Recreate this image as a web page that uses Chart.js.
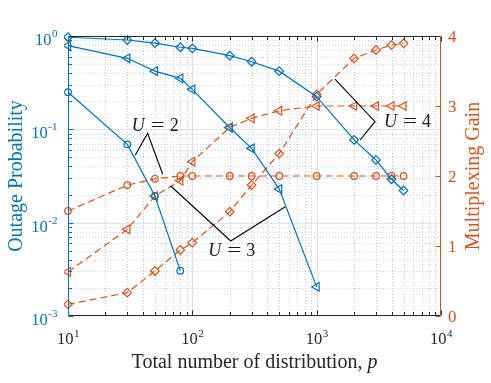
<!DOCTYPE html>
<html><head><meta charset="utf-8">
<script src="https://cdn.jsdelivr.net/npm/chart.js@4.4.0/dist/chart.umd.min.js"></script>
<style>html,body{margin:0;padding:0;background:#fff;} canvas{display:block;}</style>
</head><body>
<canvas id="c" width="491" height="383"></canvas>
<script>
// ---- data ----
const pValues   = [10, 30, 50, 80, 100, 200, 300, 500, 1000, 2000, 3000, 4000, 5000];
const outageU2  = [0.25, 0.069, 0.0193, 0.00306];
const outageU3  = [0.787, 0.577, 0.42, 0.352, 0.268, 0.104, 0.0625, 0.0229, 0.00205];
const outageU4  = [0.97, 0.906, 0.84, 0.758, 0.738, 0.615, 0.53, 0.42, 0.224, 0.077, 0.047, 0.0292, 0.0221];
const gainU2    = [1.5, 1.87, 1.96, 2.0, 2.0, 2.0, 2.0, 2.0, 2.0, 2.0, 2.0, 2.0, 2.0];
const gainU3    = [0.63, 1.238, 1.714, 1.933, 2.205, 2.695, 2.824, 2.933, 3.0, 3.0, 3.0, 3.0, 3.0];
const gainU4    = [0.167, 0.333, 0.643, 0.943, 1.048, 1.49, 1.871, 2.32, 3.167, 3.68, 3.8, 3.871, 3.895];
const xTickExps    = [1, 2, 3, 4];
const leftTickExps = [0, -1, -2, -3];
const rightTicks   = [0, 1, 2, 3, 4];
const xTitle = 'Total number of distribution, ';
const xTitleVar = 'p';
const leftTitle = 'Outage Probability';
const rightTitle = 'Multiplexing Gain';
// annotation callouts (data coordinates: p, outage probability)
const calloutLabels = ['2', '3', '4'];
const calloutLines = [
  [[34.8, 0.0531], [43.7, 0.0907], [57.8, 0.033]],
  [[67, 0.0247], [203.6, 0.00636], [559, 0.0148]],
  [[1405, 0.346], [2946, 0.1207], [2233, 0.0769]]
];
const calloutText = [[32.5, 0.1127], [134.5, 0.00522], [3480, 0.1234]];

const BLUE = '#0072BD', ORANGE = '#D95319', AX = '#262626';
const FONT = '"Liberation Serif", "Times New Roman", serif';

function pts(ys) { return ys.map((y, i) => ({x: pValues[i], y})); }

function ds(data, color, shape, axis, dashed) {
  const style = shape === 'circle' ? 'circle' : (shape === 'diamond' ? 'rectRot' : 'triangle');
  const r = shape === 'circle' ? 3.3 : (shape === 'diamond' ? 4.3 : 5);
  return {
    data, yAxisID: axis, borderColor: color, backgroundColor: 'rgba(0,0,0,0)',
    borderWidth: 1.2, borderDash: dashed ? [7, 4] : [],
    pointStyle: style, pointRadius: r, pointBorderWidth: 1.2,
    pointRotation: shape === 'tri' ? -90 : 0,
    pointBorderColor: color, pointBackgroundColor: 'rgba(0,0,0,0)',
    tension: 0, fill: false, clip: 4
  };
}

const minorVals = (lo, hi) => { const a = []; for (let e = lo; e < hi; e++) for (let k = 2; k <= 9; k++) a.push(k * Math.pow(10, e)); return a; };

const matlabPlugin = {
  id: 'matlab',
  beforeDatasetsDraw(chart) {
    const {ctx, chartArea: ca, scales} = chart;
    const xs = scales.x, ys = scales.y;
    ctx.save();
    ctx.lineWidth = 1;
    ctx.setLineDash([1, 2]);
    ctx.strokeStyle = '#C9C9C9';
    minorVals(1, 4).forEach(v => { const x = Math.round(xs.getPixelForValue(v)) + 0.5; ctx.beginPath(); ctx.moveTo(x, ca.top); ctx.lineTo(x, ca.bottom); ctx.stroke(); });
    ctx.strokeStyle = '#BBD5EA';
    minorVals(-3, 0).forEach(v => { const y = Math.round(ys.getPixelForValue(v)) + 0.5; ctx.beginPath(); ctx.moveTo(ca.left, y); ctx.lineTo(ca.right, y); ctx.stroke(); });
    ctx.setLineDash([]);
    ctx.strokeStyle = '#DFDFDF';
    [100, 1000].forEach(v => { const x = Math.round(xs.getPixelForValue(v)) + 0.5; ctx.beginPath(); ctx.moveTo(x, ca.top); ctx.lineTo(x, ca.bottom); ctx.stroke(); });
    ctx.strokeStyle = '#D3E4F1';
    [0.1, 0.01].forEach(v => { const y = Math.round(ys.getPixelForValue(v)) + 0.5; ctx.beginPath(); ctx.moveTo(ca.left, y); ctx.lineTo(ca.right, y); ctx.stroke(); });
    ctx.restore();
  },
  afterDatasetsDraw(chart) {
    const {ctx, chartArea: ca, scales} = chart;
    const xs = scales.x, ys = scales.y, y2 = scales.y2;
    ctx.save();
    ctx.lineWidth = 1;
    const L = Math.round(ca.left) + 0.5, R = Math.round(ca.right) - 0.5, T = Math.round(ca.top) + 0.5, B = Math.round(ca.bottom) - 0.5;
    const line = (x1, y1, x2, y2c, c) => { ctx.strokeStyle = c; ctx.beginPath(); ctx.moveTo(x1, y1); ctx.lineTo(x2, y2c); ctx.stroke(); };
    xTickExps.forEach(e => { const x = Math.round(xs.getPixelForValue(Math.pow(10, e))) + 0.5; line(x, B, x, B - 5, AX); line(x, T, x, T + 5, AX); });
    minorVals(1, 4).forEach(v => { const x = Math.round(xs.getPixelForValue(v)) + 0.5; line(x, B, x, B - 3.5, AX); line(x, T, x, T + 3.5, AX); });
    leftTickExps.forEach(e => { const y = Math.round(ys.getPixelForValue(Math.pow(10, e))) + 0.5; line(L, y, L + 5, y, BLUE); });
    minorVals(-3, 0).forEach(v => { const y = Math.round(ys.getPixelForValue(v)) + 0.5; line(L, y, L + 3.5, y, BLUE); });
    rightTicks.forEach(v => { const y = Math.round(y2.getPixelForValue(v)) + 0.5; line(R, y, R - 5, y, ORANGE); });
    line(L, T, R, T, AX); line(L, B, R, B, AX);
    line(L, T - 0.5, L, B + 0.5, BLUE); line(R, T - 0.5, R, B + 0.5, ORANGE);

    const big = '16.5px ' + FONT, small = '11px ' + FONT;
    ctx.textBaseline = 'alphabetic';
    xTickExps.forEach(e => {
      const x = xs.getPixelForValue(Math.pow(10, e));
      ctx.font = big; const w1 = ctx.measureText('10').width;
      ctx.font = small; const w2 = ctx.measureText(String(e)).width;
      const x0 = x - (w1 + w2) / 2;
      ctx.fillStyle = AX;
      ctx.font = big; ctx.textAlign = 'left'; ctx.fillText('10', x0, 344);
      ctx.font = small; ctx.fillText(String(e), x0 + w1 + 0.5, 336.5);
    });
    leftTickExps.forEach(e => {
      const y = ys.getPixelForValue(Math.pow(10, e));
      const s = e < 0 ? '-' + (-e) : String(e);
      ctx.font = small; const w2 = ctx.measureText(s).width;
      ctx.font = big; const w1 = ctx.measureText('10').width;
      const xr = 57.5;
      ctx.fillStyle = BLUE; ctx.textAlign = 'left';
      ctx.font = big; ctx.fillText('10', xr - w2 - w1 - 0.5, y + 9);
      ctx.font = small; ctx.fillText(s, xr - w2, y + 1);
    });
    rightTicks.forEach(v => {
      const y = y2.getPixelForValue(v);
      ctx.fillStyle = ORANGE; ctx.font = '17px ' + FONT; ctx.textAlign = 'left';
      ctx.fillText(String(v), 448, y + 6);
    });

    const tf = '20px ' + FONT, tfi = 'italic 20px ' + FONT;
    ctx.font = tf; const wA = ctx.measureText(xTitle).width;
    ctx.font = tfi; const wB = ctx.measureText(xTitleVar).width;
    const cx = (ca.left + ca.right) / 2;
    ctx.fillStyle = AX; ctx.textAlign = 'left';
    ctx.font = tf; ctx.fillText(xTitle, cx - (wA + wB) / 2, 368);
    ctx.font = tfi; ctx.fillText(xTitleVar, cx - (wA + wB) / 2 + wA, 368);
    const cy = (ca.top + ca.bottom) / 2;
    ctx.font = tf; ctx.textAlign = 'center';
    ctx.save(); ctx.translate(22, cy); ctx.rotate(-Math.PI / 2); ctx.fillStyle = BLUE; ctx.fillText(leftTitle, 0, 0); ctx.restore();
    ctx.save(); ctx.translate(479, cy); ctx.rotate(-Math.PI / 2); ctx.fillStyle = ORANGE; ctx.fillText(rightTitle, 0, 0); ctx.restore();

    ctx.strokeStyle = '#000'; ctx.lineWidth = 1.1;
    calloutLines.forEach(seg => {
      ctx.beginPath();
      seg.forEach(([px, py], i) => { const X = xs.getPixelForValue(px), Y = ys.getPixelForValue(py); if (i) ctx.lineTo(X, Y); else ctx.moveTo(X, Y); });
      ctx.stroke();
    });
    calloutText.forEach(([px, py], i) => {
      const X = xs.getPixelForValue(px), Y = ys.getPixelForValue(py) + 6.5;
      ctx.fillStyle = '#1a1a1a'; ctx.textAlign = 'left';
      ctx.font = 'italic 18px ' + FONT; ctx.fillText('U', X, Y);
      ctx.save(); ctx.translate(X + 26, Y); ctx.scale(1.4, 1); ctx.textAlign = 'center'; ctx.font = '18px ' + FONT; ctx.fillText('=', 0, 0); ctx.restore();
      ctx.font = '18px ' + FONT; ctx.fillText(calloutLabels[i], X + 38, Y);
    });
    ctx.restore();
  }
};

new Chart(document.getElementById('c'), {
  type: 'line',
  data: {
    datasets: [
      ds(pts(outageU2), BLUE, 'circle', 'y', false),
      ds(pts(outageU3), BLUE, 'tri', 'y', false),
      ds(pts(outageU4), BLUE, 'diamond', 'y', false),
      ds(pts(gainU2), ORANGE, 'circle', 'y2', true),
      ds(pts(gainU3), ORANGE, 'tri', 'y2', true),
      ds(pts(gainU4), ORANGE, 'diamond', 'y2', true)
    ]
  },
  options: {
    responsive: false, animation: false, devicePixelRatio: 1,
    layout: {padding: {left: 68, right: 50, top: 36, bottom: 67}},
    plugins: {legend: {display: false}, tooltip: {enabled: false}},
    scales: {
      x: {type: 'logarithmic', min: 10, max: 10000, display: false},
      y: {type: 'logarithmic', min: 0.001, max: 1, display: false, position: 'left'},
      y2: {type: 'linear', min: 0, max: 4, display: false, position: 'right'}
    }
  },
  plugins: [matlabPlugin]
});
</script>
</body></html>
